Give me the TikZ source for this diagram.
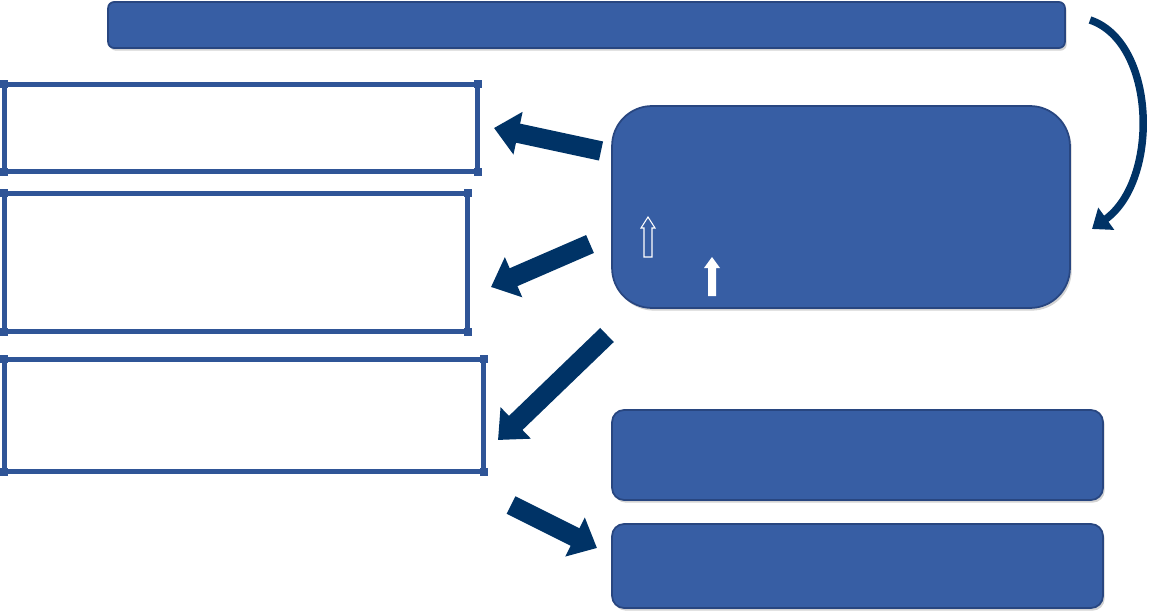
\documentclass[tikz,border=0pt]{standalone}
\usepackage{tikz}
\usetikzlibrary{arrows.meta, shadows}

\definecolor{boxblue}{RGB}{55,94,164}
\definecolor{boxedge}{RGB}{40,70,128}
\definecolor{navy}{RGB}{0,51,102}
\definecolor{frameblue}{RGB}{47,85,151}

\tikzset{
    bluebox/.style={draw=boxedge, line width=1pt, fill=boxblue, outer sep=0pt,
        drop shadow={opacity=0.35, shadow xshift=1pt, shadow yshift=-1.5pt}},
    framebox/.style={draw=frameblue, line width=0.1cm, fill=white, outer sep=0pt},
    blockarrow/.style={draw=navy, line width=0.39cm, -{Triangle[length=14pt,width=24pt]}},
    bendarrow/.style={draw=navy, line width=0.15cm, -{Triangle[length=10pt,width=15pt]}},
}

\begin{document}
\begin{tikzpicture}[x=0.02cm, y=-0.02cm]
    \useasboundingbox (0,0) rectangle (1149,611);

    % blue boxes
    \node[bluebox, rounded corners=0.12cm, minimum width=19.14cm, minimum height=0.92cm] (title) at (586.5,25) {};
    \node[bluebox, rounded corners=0.8cm, minimum width=9.16cm, minimum height=4.04cm] (hub) at (841,207) {};
    \node[bluebox, rounded corners=0.24cm, minimum width=9.82cm, minimum height=1.8cm] (res1) at (857.5,455) {};
    \node[bluebox, rounded corners=0.24cm, minimum width=9.82cm, minimum height=1.68cm] (res2) at (857.5,566) {};

    % framed boxes on the left
    \node[framebox, minimum width=9.48cm, minimum height=1.76cm] (out1) at (241,128) {};
    \node[framebox, minimum width=9.28cm, minimum height=2.78cm] (out2) at (236,262.5) {};
    \node[framebox, minimum width=9.6cm, minimum height=2.26cm] (out3) at (244,415.5) {};
    \foreach \b in {out1, out2, out3}
        \foreach \c in {north west, north east, south west, south east}
            \fill[frameblue] (\b.\c) ++(-4,-4) rectangle ++(8,8);

    % small arrows in the hub
    \draw[white, line width=0.6pt] (644,257) -- (644,228) -- (641,228) -- (648,217)
        -- (655,228) -- (652,228) -- (652,257) -- cycle;
    \fill[white] (708,296) -- (708,268) -- (704,268) -- (712,257)
        -- (720,268) -- (716,268) -- (716,296) -- cycle;

    % connector ends
    \coordinate (t1) at (601,151);  \coordinate (h1) at (494,128);
    \coordinate (t2) at (590,244);  \coordinate (h2) at (491,287);
    \coordinate (t3) at (607,335);  \coordinate (h3) at (498,440);
    \coordinate (t4) at (511,505);  \coordinate (h4) at (597,548);
    \coordinate (tb) at (1090,20);  \coordinate (hb) at (1092,229);

    \path
    (t1) edge[blockarrow] (h1)
    (t2) edge[blockarrow] (h2)
    (t3) edge[blockarrow] (h3)
    (t4) edge[blockarrow] (h4);
    \draw[bendarrow] (tb) .. controls (1156,42) and (1160,180) .. (hb);
\end{tikzpicture}
\end{document}
